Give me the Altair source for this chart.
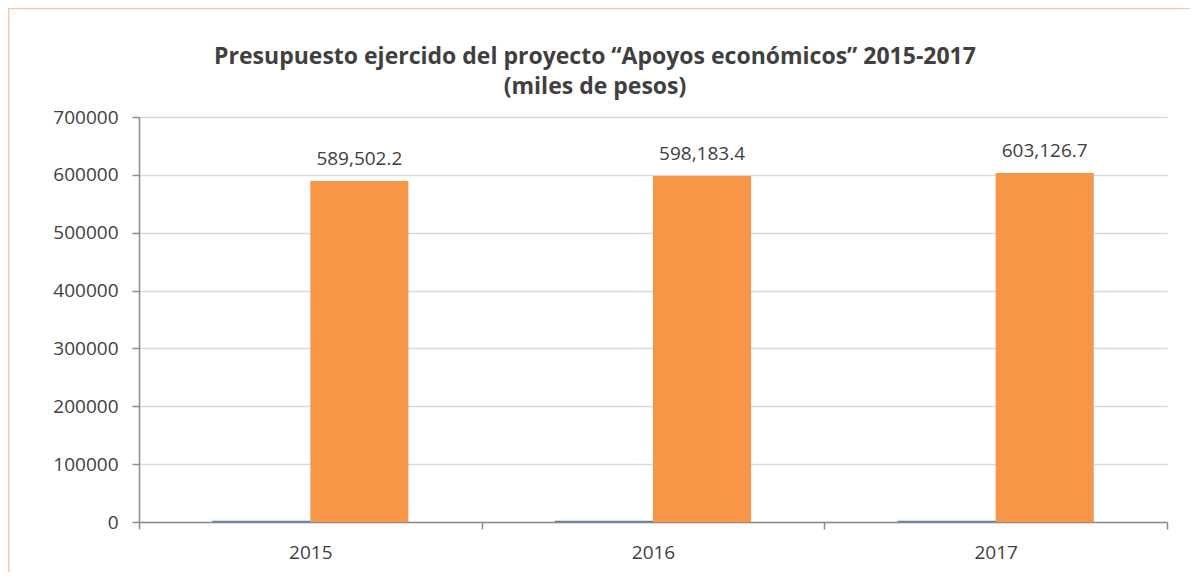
import altair as alt
import pandas as pd

years = ["2015", "2016", "2017"]
serie_anio = [2015, 2016, 2017]
serie_presupuesto = [589502.2, 598183.4, 603126.7]
series_names = ["Año", "Presupuesto ejercido"]
colors = ["#4F81BD", "#F79646"]
y_ticks = [0, 100000, 200000, 300000, 400000, 500000, 600000, 700000]
title_lines = ["Presupuesto ejercido del proyecto “Apoyos económicos” 2015-2017", "(miles de pesos)"]

rows = []
for i, yr in enumerate(years):
    rows.append({"year": yr, "serie": series_names[0], "value": serie_anio[i], "label": ""})
    rows.append({"year": yr, "serie": series_names[1], "value": serie_presupuesto[i],
                 "label": f"{serie_presupuesto[i]:,.1f}"})
df = pd.DataFrame(rows)

W, H = 1028, 405
FONT = "Open Sans"
TXT = "#404040"

x = alt.X("year:N", sort=years, title=None,
          scale=alt.Scale(paddingInner=0, paddingOuter=0),
          axis=alt.Axis(labelAngle=0, labelFontSize=19, labelColor=TXT, labelFont=FONT,
                        domainColor="#8C8C8C", domainWidth=1.5, tickColor="#8C8C8C",
                        tickWidth=1.5, tickSize=7, tickBand="extent", labelPadding=14,
                        grid=False))
xo = alt.XOffset("serie:N", sort=series_names,
                 scale=alt.Scale(paddingInner=0, paddingOuter=0.747))
y = alt.Y("value:Q", title=None,
          scale=alt.Scale(domain=[0, 700000], nice=False),
          axis=alt.Axis(values=y_ticks, format="d", labelFontSize=19, labelColor=TXT,
                        labelFont=FONT, domainColor="#8C8C8C", domainWidth=1.5,
                        tickColor="#8C8C8C", tickWidth=1.5, tickSize=7, labelPadding=14,
                        gridColor="#D9D9D9", gridWidth=1.5))

bars = alt.Chart(df).mark_bar().encode(
    x=x, xOffset=xo, y=y,
    color=alt.Color("serie:N", sort=series_names,
                    scale=alt.Scale(domain=series_names, range=colors), legend=None),
)

labels = alt.Chart(df[df["label"] != ""]).mark_text(
    font=FONT, fontSize=19, color=TXT, baseline="alphabetic", dy=-16
).encode(x=x, xOffset=xo, y=y, text="label:N")

border = alt.Chart(pd.DataFrame({"a": [0]})).mark_rect(
    fill=None, stroke="#F9C89B", strokeWidth=1.5, clip=False
).encode(x=alt.value(-130.2), x2=alt.value(W + 200), y=alt.value(-108.5), y2=alt.value(H + 200))

t1 = alt.Chart(pd.DataFrame({"t": [title_lines[0]]})).mark_text(
    font=FONT, fontSize=23, fontWeight="bold", color=TXT, align="center",
    baseline="alphabetic", clip=False
).encode(text="t:N", x=alt.value(456), y=alt.value(-53))

t2 = alt.Chart(pd.DataFrame({"t": [title_lines[1]]})).mark_text(
    font=FONT, fontSize=23, fontWeight="bold", color=TXT, align="center",
    baseline="alphabetic", clip=False
).encode(text="t:N", x=alt.value(456), y=alt.value(-23))

chart = alt.layer(border, bars, labels, t1, t2).properties(
    width=W, height=H,
    autosize=alt.AutoSizeParams(type="none"),
    padding={"left": 131, "top": 109, "right": 23, "bottom": 50},
).configure_view(stroke=None)

chart.save("out.html", embed_options={"renderer": "svg", "actions": False})
